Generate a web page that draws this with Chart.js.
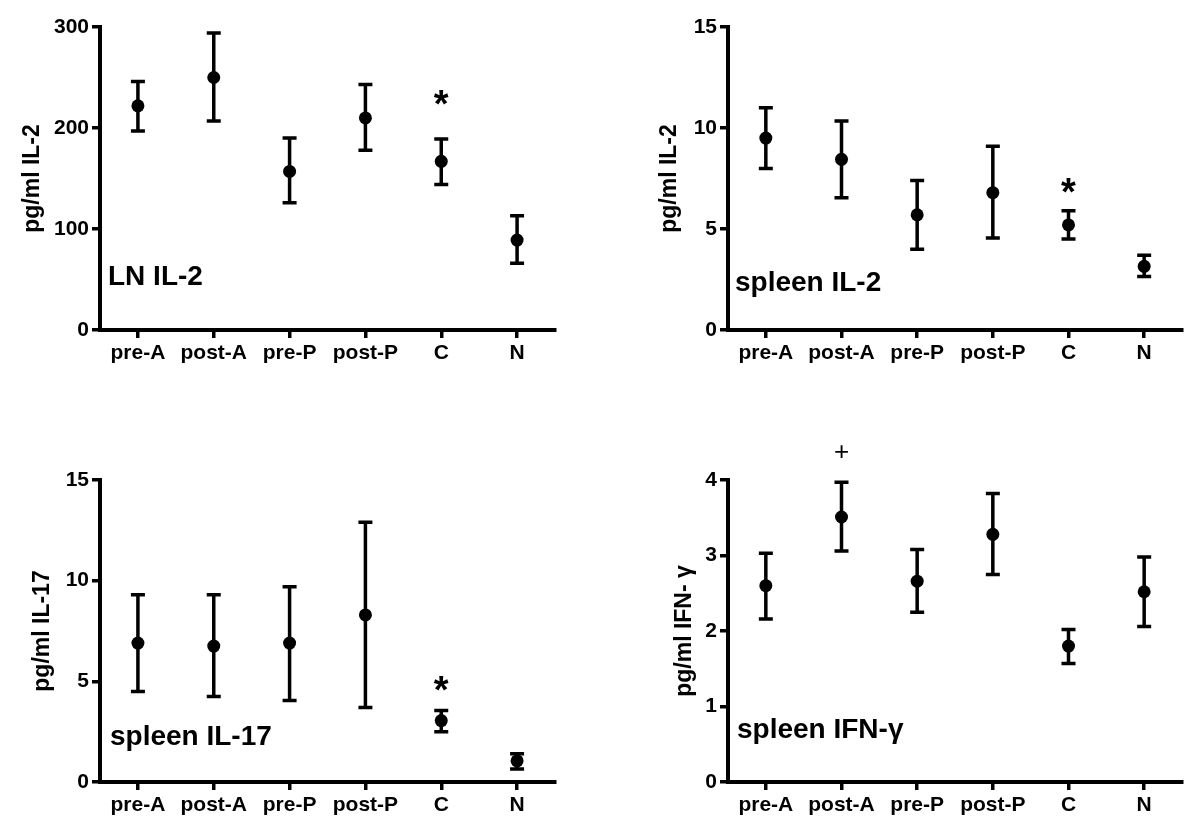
<!DOCTYPE html>
<html>
<head>
<meta charset="utf-8">
<script src="https://cdn.jsdelivr.net/npm/chart.js@4"></script>
<style>
body { margin:0; background:#fff; }
#wrap { position:relative; width:1200px; height:828px; }
.panel { position:absolute; width:600px; height:414px; }
</style>
</head>
<body>
<div id="wrap">
  <div class="panel" style="left:0;top:0"><canvas id="c1"></canvas></div>
  <div class="panel" style="left:600px;top:0"><canvas id="c2"></canvas></div>
  <div class="panel" style="left:0;top:414px"><canvas id="c3"></canvas></div>
  <div class="panel" style="left:600px;top:414px"><canvas id="c4"></canvas></div>
</div>
<script>
// groups
const categories = ['pre-A', 'post-A', 'pre-P', 'post-P', 'C', 'N'];

// LN IL-2 (pg/ml)
const lnIl2Mean = [222, 250, 157, 210, 167, 89];
const lnIl2Hi   = [246, 294, 190, 243, 189, 113];
const lnIl2Lo   = [197, 207, 126, 178, 144, 66];
const lnIl2Ticks = [0, 100, 200, 300];

// spleen IL-2
const spIl2Mean = [9.5, 8.45, 5.7, 6.8, 5.2, 3.15];
const spIl2Hi   = [11.0, 10.35, 7.4, 9.1, 5.9, 3.7];
const spIl2Lo   = [8.0, 6.55, 4.0, 4.55, 4.5, 2.65];
const spIl2Ticks = [0, 5, 10, 15];

// spleen IL-17
const spIl17Mean = [6.9, 6.75, 6.9, 8.3, 3.05, 1.05];
const spIl17Hi   = [9.3, 9.3, 9.7, 12.9, 3.55, 1.4];
const spIl17Lo   = [4.5, 4.25, 4.05, 3.7, 2.5, 0.65];
const spIl17Ticks = [0, 5, 10, 15];

// spleen IFN-g
const ifnMean = [2.6, 3.51, 2.66, 3.28, 1.8, 2.52];
const ifnHi   = [3.03, 3.97, 3.08, 3.82, 2.02, 2.98];
const ifnLo   = [2.16, 3.06, 2.25, 2.75, 1.57, 2.06];
const ifnTicks = [0, 1, 2, 3, 4];

const FONT = 'Arial, "Liberation Sans", Helvetica, sans-serif';

// error bars + significance marks + panel label
const extras = {
    id: 'extras',
    afterDatasetsDraw(chart) {
        const ctx = chart.ctx;
        const xs = chart.scales.x, ys = chart.scales.y;
        const ds = chart.data.datasets[0];
        ctx.save();
        ctx.strokeStyle = '#000';
        ctx.lineWidth = 3.5;
        ds.hi.forEach((h, i) => {
            const x = xs.getPixelForValue(i);
            const yh = ys.getPixelForValue(h);
            const yl = ys.getPixelForValue(ds.lo[i]);
            ctx.beginPath();
            ctx.moveTo(x, yh); ctx.lineTo(x, yl);
            ctx.moveTo(x - 7, yh); ctx.lineTo(x + 7, yh);
            ctx.moveTo(x - 7, yl); ctx.lineTo(x + 7, yl);
            ctx.stroke();
        });
        ctx.restore();
    },
    afterDraw(chart) {
        const ctx = chart.ctx;
        const xs = chart.scales.x, ys = chart.scales.y;
        const o = chart.options.plugins.extras;
        ctx.save();
        ctx.fillStyle = '#000';
        ctx.textBaseline = 'middle';
        ctx.textAlign = 'center';
        if (o.mark) {
            ctx.font = o.mark.font + ' ' + FONT;
            ctx.fillText(o.mark.text, xs.getPixelForValue(o.mark.at), ys.getPixelForValue(o.mark.y));
        }
        ctx.textAlign = 'left';
        ctx.font = 'bold 28px ' + FONT;
        ctx.fillText(o.label, chart.chartArea.left + o.lx, chart.chartArea.bottom - o.ly);
        ctx.restore();
    }
};

function makeChart(id, mean, hi, lo, ticks, yTitle, lay, extra) {
    new Chart(document.getElementById(id), {
        type: 'line',
        data: {
            labels: categories,
            datasets: [{
                data: mean,
                hi: hi,
                lo: lo,
                showLine: false,
                pointRadius: 6.5,
                pointHoverRadius: 6.5,
                pointBackgroundColor: '#000',
                pointBorderWidth: 0
            }]
        },
        options: {
            responsive: true,
            maintainAspectRatio: false,
            animation: false,
            layout: { padding: lay.pad },
            plugins: {
                legend: { display: false },
                tooltip: { enabled: false },
                extras: extra
            },
            scales: {
                x: {
                    offset: true,
                    grid: { drawOnChartArea: false, drawTicks: true, tickLength: 8, color: '#000', lineWidth: 3.5 },
                    border: { color: '#000', width: 4 },
                    ticks: { color: '#000', font: { family: FONT, size: 21, weight: 'bold' }, padding: 3, maxRotation: 0, autoSkip: false },
                    afterFit: s => { s.height = lay.xh; }
                },
                y: {
                    min: ticks[0],
                    max: ticks[ticks.length - 1],
                    afterBuildTicks: s => { s.ticks = ticks.map(v => ({ value: v })); },
                    grid: { drawOnChartArea: false, drawTicks: true, tickLength: 8, color: '#000', lineWidth: 3.5 },
                    border: { color: '#000', width: 4 },
                    ticks: { color: '#000', font: { family: FONT, size: 21, weight: 'bold' }, padding: 3 },
                    title: { display: true, text: yTitle, color: '#000', font: { family: FONT, size: 23, weight: 'bold' }, padding: { top: 4, bottom: 0 } },
                    afterFit: s => { s.width = lay.yw; }
                }
            }
        },
        plugins: [extras]
    });
}

makeChart('c1', lnIl2Mean, lnIl2Hi, lnIl2Lo, lnIl2Ticks, 'pg/ml IL-2',
    { pad: { left: 15, top: 27, right: 45, bottom: 34 }, yw: 85, xh: 50 },
    { label: 'LN IL-2', lx: 8, ly: 53, mark: { text: '*', font: 'bold 38px', at: 4, y: 221 } });

makeChart('c2', spIl2Mean, spIl2Hi, spIl2Lo, spIl2Ticks, 'pg/ml IL-2',
    { pad: { left: 52, top: 27, right: 18, bottom: 34 }, yw: 76, xh: 50 },
    { label: 'spleen IL-2', lx: 7, ly: 47, mark: { text: '*', font: 'bold 38px', at: 4, y: 6.7 } });

makeChart('c3', spIl17Mean, spIl17Hi, spIl17Lo, spIl17Ticks, 'pg/ml IL-17',
    { pad: { left: 25, top: 66, right: 45, bottom: 0 }, yw: 75, xh: 46 },
    { label: 'spleen IL-17', lx: 10, ly: 45, mark: { text: '*', font: 'bold 38px', at: 4, y: 4.45 } });

makeChart('c4', ifnMean, ifnHi, ifnLo, ifnTicks, 'pg/ml IFN- γ',
    { pad: { left: 67, top: 66, right: 18, bottom: 0 }, yw: 61, xh: 46 },
    { label: 'spleen IFN-γ', lx: 9, ly: 52, mark: { text: '+', font: '26px', at: 1, y: 4.36 } });
</script>
</body>
</html>
